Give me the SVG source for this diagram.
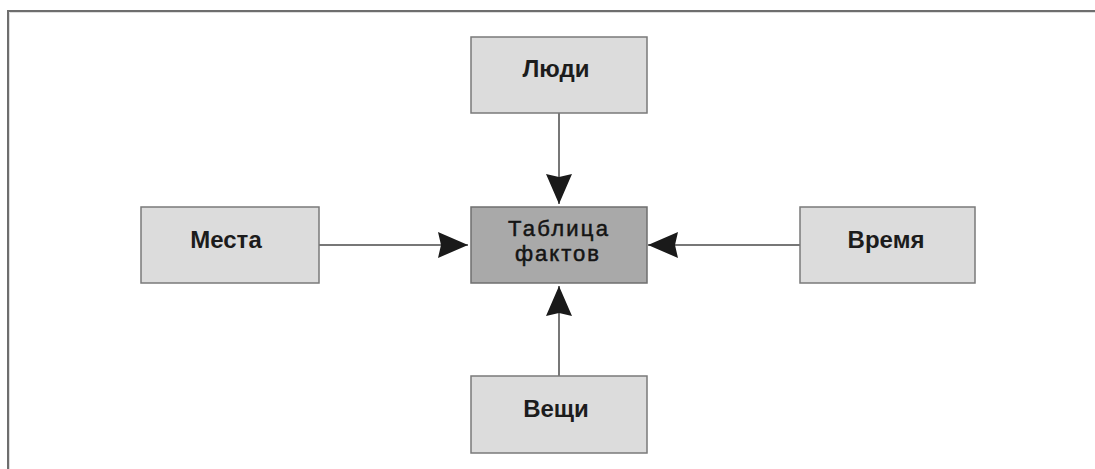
<svg xmlns="http://www.w3.org/2000/svg" width="1095" height="469" viewBox="0 0 1095 469">
  <style>
    .box { fill: #dcdcdc; stroke: #7a7a7a; stroke-width: 1.5; }
    .fact { fill: #a9a9a9; stroke: #6f6f6f; stroke-width: 1.5; }
    .lbl { font-family: "Liberation Sans", Arial, sans-serif; font-size: 24px; font-weight: bold; fill: #1c1c1c; text-anchor: middle; }
    .flbl { font-family: "Liberation Sans", Arial, sans-serif; font-size: 22px; font-weight: normal; fill: #141414; stroke: #141414; stroke-width: 0.5; text-anchor: middle; }
    .conn { stroke: #4a4a4a; stroke-width: 1.5; fill: none; marker-end: url(#ah); }
    .frame { stroke: #6e6e6e; stroke-width: 2; fill: none; }
    .frame2 { stroke: #dedede; stroke-width: 1; fill: none; }
  </style>
  <defs>
    <marker id="ah" markerUnits="userSpaceOnUse" markerWidth="32" markerHeight="28" refX="30" refY="13" orient="auto">
      <path d="M0,0 L30,13 L0,26 L3,13 Z" fill="#1a1a1a"/>
    </marker>
  </defs>
  <rect x="0" y="0" width="1095" height="469" fill="#ffffff"/>
  <g id="frame">
    <path class="frame" d="M7,11 H1095 M8,11 V469"/>
    <path class="frame2" d="M9.5,12.5 H1095 M9.5,12.5 V469"/>
  </g>
  <g id="connectors">
    <line class="conn" x1="559" y1="113" x2="559" y2="204"/>
    <line class="conn" x1="559" y1="376" x2="559" y2="286"/>
    <line class="conn" x1="319" y1="245" x2="468" y2="245"/>
    <line class="conn" x1="800" y1="245" x2="648" y2="245"/>
  </g>
  <g id="node-lyudi">
    <rect class="box" x="471" y="37" width="176" height="76"/>
    <text class="lbl" x="556" y="77">Люди</text>
  </g>
  <g id="node-fact">
    <rect class="fact" x="471" y="207" width="176" height="76"/>
    <text class="flbl" x="558" y="236" textLength="100" lengthAdjust="spacing">Таблица</text>
    <text class="flbl" x="557" y="261" textLength="84" lengthAdjust="spacing">фактов</text>
  </g>
  <g id="node-mesta">
    <rect class="box" x="141" y="207" width="178" height="76"/>
    <text class="lbl" x="226" y="248">Места</text>
  </g>
  <g id="node-vremya">
    <rect class="box" x="800" y="207" width="175" height="76"/>
    <text class="lbl" x="886" y="248">Время</text>
  </g>
  <g id="node-veshchi">
    <rect class="box" x="471" y="376" width="176" height="77"/>
    <text class="lbl" x="556" y="417">Вещи</text>
  </g>
</svg>
